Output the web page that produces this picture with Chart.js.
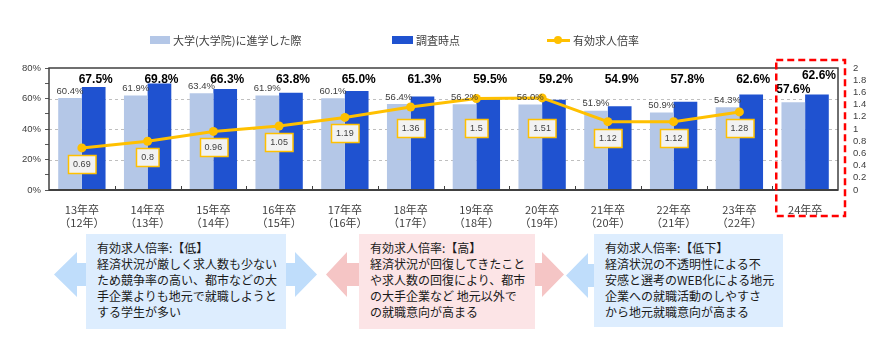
<!DOCTYPE html>
<html lang="ja">
<head>
<meta charset="utf-8">
<script src="https://cdn.jsdelivr.net/npm/chart.js@4.4.1/dist/chart.umd.min.js"></script>
<style>
  html, body { margin: 0; padding: 0; background: #ffffff; }
  #wrap { position: relative; width: 889px; height: 353px; overflow: hidden; font-family: "Noto Sans CJK JP", sans-serif; }
  #chart { position: absolute; left: 0; top: 0; }
  .lg { position: absolute; font-size: 11px; color: #404040; line-height: 14px; white-space: nowrap; }
  .sw { position: absolute; }
  .box { position: absolute; box-sizing: border-box; padding: 6px 0 0 11px; font-size: 12px; line-height: 16px; color: #1a1a1a; white-space: pre; }
  .arrow { position: absolute; }
</style>
</head>
<body>
<div id="wrap">
  <canvas id="chart" width="889" height="353"></canvas>

  <div class="sw" style="left:150px; top:36px; width:20px; height:8px; background:#B4C7E7;"></div>
  <div class="lg" style="left:173px; top:33px;" id="lg0"></div>
  <div class="sw" style="left:392px; top:36px; width:21px; height:8px; background:#1F52D0;"></div>
  <div class="lg" style="left:416px; top:33px;" id="lg1"></div>
  <div class="sw" style="left:547px; top:38.5px; width:23px; height:3px; background:#FFC000;"></div>
  <div class="sw" style="left:554px; top:36px; width:8px; height:8px; border-radius:50%; background:#FFC000;"></div>
  <div class="lg" style="left:573px; top:33px;" id="lg2"></div>

  <div class="arrow" style="left:54px; top:252px; width:32px; height:45px; background:#BFDDFB; clip-path:polygon(0px 22.5px,23px 0px,23px 11px,32px 11px,32px 34px,23px 34px,23px 45px);"></div>
  <div class="arrow" style="left:286px; top:252px; width:31px; height:45px; background:#BFDDFB; clip-path:polygon(0px 11px,9px 11px,9px 0px,31px 22.5px,9px 45px,9px 34px,0px 34px);"></div>
  <div class="arrow" style="left:326px; top:252px; width:33px; height:45px; background:#F5C5C5; clip-path:polygon(0px 22.5px,21px 0px,21px 11px,33px 11px,33px 34px,21px 34px,21px 45px);"></div>
  <div class="arrow" style="left:535px; top:252px; width:29px; height:45px; background:#F5C5C5; clip-path:polygon(0px 11px,7px 11px,7px 0px,29px 22.5px,7px 45px,7px 34px,0px 34px);"></div>
  <div class="arrow" style="left:566px; top:253px; width:28px; height:45px; background:#BFDDFB; clip-path:polygon(0px 22.5px,22px 0px,22px 11px,28px 11px,28px 34px,22px 34px,22px 45px);"></div>

  <div class="box" id="box0" style="left:86px; top:234px; width:200px; height:95px; background:#DDEDFE;"></div>
  <div class="box" id="box1" style="left:359px; top:234px; width:176px; height:95px; background:#FCE4E6;"></div>
  <div class="box" id="box2" style="left:594px; top:234px; width:189px; height:93px; background:#DDEDFE;"></div>
</div>
<script>
// ---- data ----
const categories = [
  ["13年卒","（12年）"], ["14年卒","（13年）"], ["15年卒","（14年）"], ["16年卒","（15年）"],
  ["17年卒","（16年）"], ["18年卒","（17年）"], ["19年卒","（18年）"], ["20年卒","（19年）"],
  ["21年卒","（20年）"], ["22年卒","（21年）"], ["23年卒","（22年）"], ["24年卒"]
];
const seriesNames = ["大学(大学院)に進学した際", "調査時点", "有効求人倍率"];
const enrollRate = [60.4, 61.9, 63.4, 61.9, 60.1, 56.4, 56.2, 56.0, 51.9, 50.9, 54.3, 57.6];
const surveyRate = [67.5, 69.8, 66.3, 63.8, 65.0, 61.3, 59.5, 59.2, 54.9, 57.8, 62.6, 62.6];
const jobRatio   = [0.69, 0.8, 0.96, 1.05, 1.19, 1.36, 1.5, 1.51, 1.12, 1.12, 1.28, null];
const leftTicks = [0, 20, 40, 60, 80];
const rightTicks = [0, 0.2, 0.4, 0.6, 0.8, 1, 1.2, 1.4, 1.6, 1.8, 2];
const highlightIndex = 11;
const noteTexts = [
  ["有効求人倍率:【低】", "経済状況が厳しく求人数も少ない", "ため競争率の高い、都市などの大", "手企業よりも地元で就職しようと", "する学生が多い"],
  ["有効求人倍率:【高】", "経済状況が回復してきたこと", "や求人数の回復により、都市", "の大手企業など 地元以外で", "の就職意向が高まる"],
  ["有効求人倍率:【低下】", "経済状況の不透明性による不", "安感と選考のWEB化による地元", "企業への就職活動のしやすさ", "から地元就職意向が高まる"]
];

// ---- html text ----
seriesNames.forEach((n, i) => { document.getElementById('lg' + i).textContent = n; });
noteTexts.forEach((lines, i) => { document.getElementById('box' + i).textContent = lines.join("\n"); });

const NUM_FONT = '"Liberation Sans", Arial, sans-serif';
const JP_FONT = '"Noto Sans CJK JP", sans-serif';

const decoPlugin = {
  id: 'deco',
  beforeDatasetsDraw(chart) {
    const { ctx, chartArea: a, scales } = chart;
    ctx.save();
    ctx.strokeStyle = '#BFBFBF';
    ctx.lineWidth = 1;
    ctx.setLineDash([3, 3]);
    leftTicks.forEach(v => {
      if (v <= 0 || v >= 80) return;
      const y = Math.round(scales.y.getPixelForValue(v)) + 0.5;
      ctx.beginPath(); ctx.moveTo(a.left, y); ctx.lineTo(a.right, y); ctx.stroke();
    });
    ctx.restore();
  },
  afterDatasetsDraw(chart) {
    const { ctx, chartArea: a, scales } = chart;
    const x = scales.x;
    ctx.save();
    // frame
    ctx.strokeStyle = '#404040';
    ctx.lineWidth = 1.5;
    ctx.strokeRect(a.left, a.top, a.right - a.left, a.bottom - a.top);
    ctx.lineWidth = 2;
    ctx.beginPath(); ctx.moveTo(a.left, a.bottom); ctx.lineTo(a.right, a.bottom); ctx.stroke();
    // category boundary ticks
    ctx.lineWidth = 1;
    for (let i = 1; i < categories.length; i++) {
      const bx = Math.round((x.getPixelForValue(i - 1) + x.getPixelForValue(i)) / 2) + 0.5;
      ctx.beginPath(); ctx.moveTo(bx, a.bottom); ctx.lineTo(bx, a.bottom - 4); ctx.stroke();
    }

    // bar labels
    const m0 = chart.getDatasetMeta(0), m1 = chart.getDatasetMeta(1), m2 = chart.getDatasetMeta(2);
    ctx.textAlign = 'center';
    ctx.textBaseline = 'middle';
    m0.data.forEach((bar, i) => {
      const txt = enrollRate[i].toFixed(1) + '%';
      if (i === highlightIndex) {
        ctx.font = 'bold 12px ' + NUM_FONT;
        ctx.fillStyle = '#000000';
        ctx.fillText(txt, bar.x, bar.y - 12);
      } else {
        ctx.font = '9.5px ' + NUM_FONT;
        ctx.fillStyle = '#404040';
        ctx.fillText(txt, bar.x, bar.y - 7);
      }
    });
    ctx.font = 'bold 12px ' + NUM_FONT;
    ctx.fillStyle = '#000000';
    m1.data.forEach((bar, i) => {
      const txt = surveyRate[i].toFixed(1) + '%';
      const ty = i === highlightIndex ? a.top + 8 : a.top + 12;
      ctx.fillText(txt, bar.x + 2, ty);
    });

    // line value boxes
    ctx.font = '9px ' + NUM_FONT;
    m2.data.forEach((pt, i) => {
      const v = jobRatio[i];
      if (v === null || v === undefined) return;
      const txt = String(v);
      const w = ctx.measureText(txt).width + 10;
      const h = 18;
      const cy = Math.max(pt.y + 16, a.top + 60);
      const bx = Math.round(pt.x - w / 2) + 0.5, by = Math.round(cy - h / 2) + 0.5;
      ctx.fillStyle = '#F2F2F2';
      ctx.fillRect(bx, by, w, h);
      ctx.strokeStyle = '#FFC000';
      ctx.lineWidth = 1.5;
      ctx.strokeRect(bx, by, w, h);
      ctx.fillStyle = '#404040';
      ctx.fillText(txt, pt.x, cy + 0.5);
    });

    // red dashed highlight box
    const hx = x.getPixelForValue(highlightIndex);
    const prev = x.getPixelForValue(highlightIndex - 1);
    const left = (hx + prev) / 2 + 4;
    const right = a.right + 7;
    ctx.strokeStyle = '#FF0000';
    ctx.lineWidth = 2.5;
    ctx.setLineDash([7, 4]);
    ctx.strokeRect(left, a.top - 8, right - left, a.bottom + 26 - (a.top - 8));
    ctx.restore();
  }
};

new Chart(document.getElementById('chart'), {
  type: 'bar',
  data: {
    labels: categories,
    datasets: [
      { type: 'bar', label: seriesNames[0], data: enrollRate, backgroundColor: '#B4C7E7', yAxisID: 'y', order: 1,
        categoryPercentage: 0.72, barPercentage: 1.0 },
      { type: 'bar', label: seriesNames[1], data: surveyRate, backgroundColor: '#1F52D0', yAxisID: 'y', order: 1,
        categoryPercentage: 0.72, barPercentage: 1.0 },
      { type: 'line', label: seriesNames[2], data: jobRatio, yAxisID: 'y2', order: 0,
        borderColor: '#FFC000', borderWidth: 3, pointRadius: 4.5, pointBackgroundColor: '#FFC000',
        pointBorderWidth: 0, tension: 0, spanGaps: false }
    ]
  },
  options: {
    responsive: false,
    animation: false,
    devicePixelRatio: 1,
    layout: { padding: { top: 68, bottom: 123, left: 0, right: 0 } },
    plugins: { legend: { display: false }, tooltip: { enabled: false } },
    scales: {
      x: {
        offset: true,
        grid: { display: false },
        border: { display: false },
        ticks: { color: '#404040', font: { family: JP_FONT, size: 11, lineHeight: 1.2 }, padding: 5, maxRotation: 0, autoSkip: false },
        afterFit: s => { s.height = 40; }
      },
      y: {
        position: 'left',
        min: 0, max: 80,
        ticks: {
          stepSize: 10,
          autoSkip: false,
          color: '#404040',
          font: { family: NUM_FONT, size: 9.5 },
          padding: 4,
          callback: v => (leftTicks.includes(v) ? v + '%' : '')
        },
        grid: { drawOnChartArea: false, drawTicks: true, tickLength: 4, tickColor: '#595959', color: '#595959' },
        border: { display: false },
        afterFit: s => { s.width = 49; }
      },
      y2: {
        position: 'right',
        min: 0, max: 2,
        afterBuildTicks: s => { s.ticks = rightTicks.map(v => ({ value: v })); },
        ticks: {
          autoSkip: false,
          color: '#404040',
          font: { family: NUM_FONT, size: 9.5 },
          padding: 7,
          callback: v => String(Math.round(v * 10) / 10)
        },
        grid: { display: false },
        border: { display: false },
        afterFit: s => { s.width = 51; }
      }
    }
  },
  plugins: [decoPlugin]
});
</script>
</body>
</html>
